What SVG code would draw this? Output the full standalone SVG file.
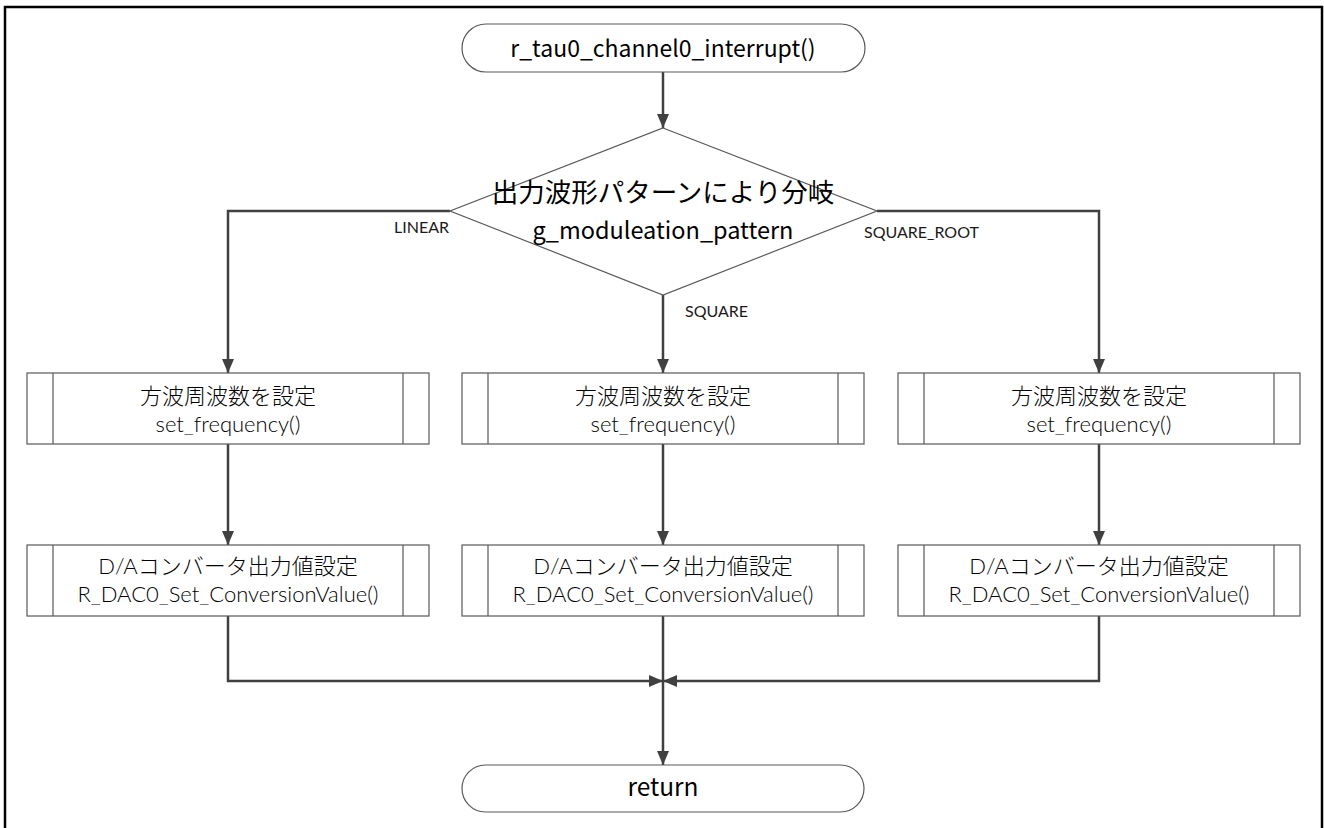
<svg xmlns="http://www.w3.org/2000/svg" width="1324" height="828" viewBox="0 0 1324 828">
  <style>
    .frame { fill: #ffffff; stroke: #000000; stroke-width: 2.5; }
    .shape { fill: #ffffff; stroke: #595959; stroke-width: 1.2; }
    .edge { fill: none; stroke: #404040; stroke-width: 2.5; }
    .gothic { font-family: "Noto Sans CJK JP", sans-serif; fill: #000000; text-anchor: middle; }
    .body { font-family: Lato, "Noto Sans CJK JP", sans-serif; font-weight: 300; font-size: 22px; fill: #000000; text-anchor: middle; }
    .lbl { font-family: Lato, "Noto Sans CJK JP", sans-serif; fill: #1a1a1a; font-size: 16px; }
  </style>
  <defs>
    <marker id="arrow" viewBox="0 0 14 12" refX="14" refY="6" markerWidth="14" markerHeight="12" markerUnits="userSpaceOnUse" orient="auto">
      <path d="M0,0 L14,6 L0,12 z" fill="#404040"/>
    </marker>
  </defs>

  <!-- page frame -->
  <rect class="frame" x="5" y="7" width="1317" height="830"/>

  <!-- connectors -->
  <g id="connectors">
    <path class="edge" d="M663,72 V128" marker-end="url(#arrow)"/>
    <path class="edge" d="M450,211 H228 V373" marker-end="url(#arrow)"/>
    <path class="edge" d="M663,295 V373" marker-end="url(#arrow)"/>
    <path class="edge" d="M877,211 H1099 V373" marker-end="url(#arrow)"/>
    <path class="edge" d="M228,444 V545" marker-end="url(#arrow)"/>
    <path class="edge" d="M663,444 V545" marker-end="url(#arrow)"/>
    <path class="edge" d="M1099,444 V545" marker-end="url(#arrow)"/>
    <path class="edge" d="M228,616 V681 H663" marker-end="url(#arrow)"/>
    <path class="edge" d="M1099,616 V681 H663" marker-end="url(#arrow)"/>
    <path class="edge" d="M663,616 V765" marker-end="url(#arrow)"/>
    <text class="lbl" x="394" y="233">LINEAR</text>
    <text class="lbl" x="685" y="317">SQUARE</text>
    <text class="lbl" x="864" y="238">SQUARE_ROOT</text>
  </g>

  <!-- start terminal -->
  <g id="start">
    <rect class="shape" x="462" y="24" width="403" height="48" rx="24" ry="24"/>
    <text class="gothic" x="663" y="57" font-size="23">r_tau0_channel0_interrupt()</text>
  </g>

  <!-- branch on output waveform pattern -->
  <g id="branch">
    <polygon class="shape" points="663,128 877,211 663,295 450,211"/>
    <text class="gothic" x="663" y="202" font-size="26.5">出力波形パターンにより分岐</text>
    <text class="gothic" x="663" y="239" font-size="23.5">g_moduleation_pattern</text>
  </g>

  <!-- LINEAR column -->
  <g id="freq-linear">
    <rect class="shape" x="27" y="373" width="402" height="71"/>
    <path class="shape" d="M53,373 V444 M403,373 V444"/>
    <text class="body" x="228" y="404" font-size="22.5">方波周波数を設定</text>
    <text class="body" x="228" y="432">set_frequency()</text>
  </g>
  <g id="dac-linear">
    <rect class="shape" x="27" y="545" width="402" height="71"/>
    <path class="shape" d="M53,545 V616 M403,545 V616"/>
    <text class="body" x="228" y="574">D/Aコンバータ出力値設定</text>
    <text class="body" x="228" y="602">R_DAC0_Set_ConversionValue()</text>
  </g>

  <!-- SQUARE column -->
  <g id="freq-square">
    <rect class="shape" x="462" y="373" width="402" height="71"/>
    <path class="shape" d="M488,373 V444 M838,373 V444"/>
    <text class="body" x="663" y="404" font-size="22.5">方波周波数を設定</text>
    <text class="body" x="663" y="432">set_frequency()</text>
  </g>
  <g id="dac-square">
    <rect class="shape" x="462" y="545" width="402" height="71"/>
    <path class="shape" d="M488,545 V616 M838,545 V616"/>
    <text class="body" x="663" y="574">D/Aコンバータ出力値設定</text>
    <text class="body" x="663" y="602">R_DAC0_Set_ConversionValue()</text>
  </g>

  <!-- SQUARE_ROOT column -->
  <g id="freq-root">
    <rect class="shape" x="898" y="373" width="402" height="71"/>
    <path class="shape" d="M924,373 V444 M1274,373 V444"/>
    <text class="body" x="1099" y="404" font-size="22.5">方波周波数を設定</text>
    <text class="body" x="1099" y="432">set_frequency()</text>
  </g>
  <g id="dac-root">
    <rect class="shape" x="898" y="545" width="402" height="71"/>
    <path class="shape" d="M924,545 V616 M1274,545 V616"/>
    <text class="body" x="1099" y="574">D/Aコンバータ出力値設定</text>
    <text class="body" x="1099" y="602">R_DAC0_Set_ConversionValue()</text>
  </g>

  <!-- end terminal -->
  <g id="end">
    <rect class="shape" x="462" y="765" width="402" height="47" rx="23.5" ry="23.5"/>
    <text class="gothic" x="663" y="796" font-size="24.5">return</text>
  </g>
</svg>
